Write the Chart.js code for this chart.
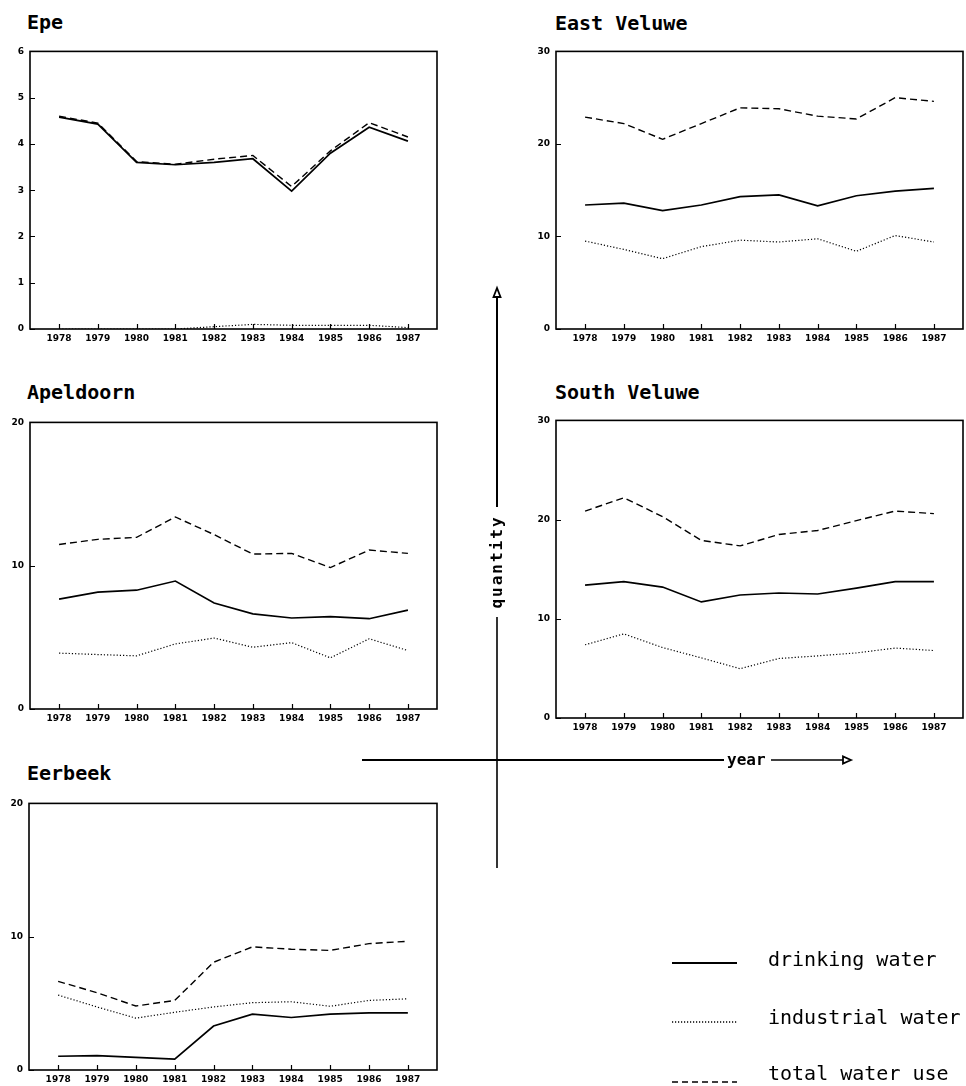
<!DOCTYPE html>
<html>
<head>
<meta charset="utf-8">
<script src="https://cdn.jsdelivr.net/npm/chart.js@4.4.1/dist/chart.umd.min.js"></script>
<style>
  html, body { margin: 0; padding: 0; background: #fff; width: 966px; height: 1086px; overflow: hidden; }
  body { position: relative; font-family: "DejaVu Sans Mono", monospace; color: #000; }
  canvas { position: absolute; }
  .title { position: absolute; font: bold 20px/20px "DejaVu Sans Mono", monospace; white-space: nowrap; }
  .leg { position: absolute; font: 20px/20px "DejaVu Sans Mono", monospace; white-space: nowrap; left: 768px; }
  .axlab { position: absolute; font: bold 16px/20px "DejaVu Sans Mono", monospace; white-space: nowrap; }
  svg { position: absolute; left: 0; top: 0; pointer-events: none; }
</style>
</head>
<body>
<div class="title" style="left:27px;top:12px">Epe</div>
<div class="title" style="left:555px;top:13px">East Veluwe</div>
<div class="title" style="left:27px;top:382px">Apeldoorn</div>
<div class="title" style="left:555px;top:382px">South Veluwe</div>
<div class="title" style="left:27px;top:763px">Eerbeek</div>

<canvas id="epe"></canvas>
<canvas id="east"></canvas>
<canvas id="apel"></canvas>
<canvas id="south"></canvas>
<canvas id="eer"></canvas>

<svg width="966" height="1086" viewBox="0 0 966 1086">
  <g stroke="#000" fill="none">
    <line x1="497" y1="296" x2="497" y2="507" stroke-width="2"/>
    <line x1="497" y1="617" x2="497" y2="868" stroke-width="1.6"/>
    <polygon points="497,288 493.5,297 500.5,297" fill="#fff" stroke-width="1.8"/>
    <line x1="362" y1="760" x2="724" y2="760" stroke-width="2"/>
    <line x1="771" y1="760" x2="843" y2="760" stroke-width="1.6"/>
    <polygon points="851,760 843,756.5 843,763.5" fill="#fff" stroke-width="1.8"/>
    <line x1="672" y1="963" x2="737" y2="963" stroke-width="1.8"/>
    <line x1="672" y1="1022" x2="737" y2="1022" stroke-width="1.3" stroke-dasharray="1.2,1.8"/>
    <line x1="672" y1="1082" x2="737" y2="1082" stroke-width="1.4" stroke-dasharray="6,4"/>
  </g>
</svg>
<div class="axlab" style="left:727px;top:750px">year</div>
<div class="axlab" style="left:442px;top:552px;width:110px;text-align:center;letter-spacing:2px;transform:rotate(-90deg);transform-origin:55px 10px">quantity</div>

<div class="leg" style="top:949px">drinking water</div>
<div class="leg" style="top:1007px">industrial water</div>
<div class="leg" style="top:1063px">total water use</div>

<script>
const years = [1978, 1979, 1980, 1981, 1982, 1983, 1984, 1985, 1986, 1987];

const epeDrinking   = [4.58, 4.43, 3.60, 3.55, 3.60, 3.68, 2.98, 3.80, 4.36, 4.06];
const epeIndustrial = [0.00, 0.00, 0.00, 0.00, 0.05, 0.10, 0.08, 0.08, 0.08, 0.03];
const epeTotal      = [4.60, 4.45, 3.62, 3.56, 3.67, 3.75, 3.08, 3.85, 4.46, 4.15];
const epeTicks      = [0, 1, 2, 3, 4, 5, 6];

const eastDrinking   = [13.4, 13.6, 12.8, 13.4, 14.3, 14.5, 13.3, 14.4, 14.9, 15.2];
const eastIndustrial = [9.5, 8.6, 7.6, 8.9, 9.6, 9.4, 9.75, 8.4, 10.1, 9.4];
const eastTotal      = [22.9, 22.2, 20.5, 22.2, 23.9, 23.8, 23.0, 22.7, 25.0, 24.6];
const eastTicks      = [0, 10, 20, 30];

const apelDrinking   = [7.67, 8.16, 8.29, 8.93, 7.40, 6.64, 6.35, 6.44, 6.30, 6.90];
const apelIndustrial = [3.90, 3.80, 3.71, 4.54, 4.95, 4.31, 4.63, 3.57, 4.90, 4.08];
const apelTotal      = [11.48, 11.84, 11.98, 13.40, 12.17, 10.81, 10.86, 9.87, 11.09, 10.86];
const apelTicks      = [0, 10, 20];

const southDrinking   = [13.4, 13.74, 13.2, 11.7, 12.4, 12.6, 12.5, 13.1, 13.74, 13.74];
const southIndustrial = [7.38, 8.48, 7.10, 6.06, 4.97, 6.00, 6.26, 6.56, 7.05, 6.80];
const southTotal      = [20.86, 22.2, 20.3, 17.9, 17.35, 18.5, 18.9, 19.9, 20.86, 20.6];
const southTicks      = [0, 10, 20, 30];

const eerDrinking   = [1.03, 1.08, 0.94, 0.81, 3.30, 4.19, 3.94, 4.19, 4.29, 4.29];
const eerIndustrial = [5.62, 4.73, 3.89, 4.33, 4.73, 5.05, 5.12, 4.78, 5.22, 5.34];
const eerTotal      = [6.65, 5.80, 4.80, 5.22, 8.08, 9.24, 9.06, 8.97, 9.48, 9.66];
const eerTicks      = [0, 10, 20];

const boxPlugin = {
  id: 'boxPlugin',
  afterDraw(chart) {
    const { ctx, chartArea: a, scales: { x, y } } = chart;
    ctx.save();
    ctx.strokeStyle = '#000';
    ctx.lineWidth = 1.6;
    ctx.setLineDash([]);
    ctx.strokeRect(a.left, a.top, a.right - a.left, a.bottom - a.top);
    ctx.lineWidth = 1.2;
    ctx.beginPath();
    y.ticks.forEach(t => {
      const py = Math.round(y.getPixelForValue(t.value)) + 0.5;
      ctx.moveTo(a.left, py); ctx.lineTo(a.left + 5, py);
    });
    x.ticks.forEach(t => {
      const px = Math.round(x.getPixelForValue(t.value)) + 0.5;
      ctx.moveTo(px, a.bottom); ctx.lineTo(px, a.bottom - 5);
    });
    ctx.stroke();
    ctx.restore();
  }
};

function series(vals) { return years.map((yr, k) => ({ x: yr, y: vals[k] })); }

function panel(id, box, yTicks, drinking, industrial, total, padRight) {
  const yW = 30, xH = 21, padT = 7;
  const el = document.getElementById(id);
  const w = box.r - box.l + yW + padRight;
  const h = box.b - box.t + padT + xH;
  el.width = w; el.height = h;
  el.style.width = w + 'px'; el.style.height = h + 'px';
  el.style.left = (box.l - yW) + 'px';
  el.style.top = (box.t - padT) + 'px';
  const tickFont = { family: '"DejaVu Sans", sans-serif', size: 9, weight: 'bold' };
  new Chart(el, {
    type: 'line',
    data: {
      datasets: [
        { label: 'drinking water', data: series(drinking), borderColor: '#000', borderWidth: 1.7, pointRadius: 0, fill: false },
        { label: 'industrial water', data: series(industrial), borderColor: '#000', borderWidth: 1.2, borderDash: [1.2, 2], pointRadius: 0, fill: false },
        { label: 'total water use', data: series(total), borderColor: '#000', borderWidth: 1.4, borderDash: [7, 4], pointRadius: 0, fill: false }
      ]
    },
    options: {
      responsive: false,
      animation: false,
      events: [],
      layout: { padding: { left: 0, top: padT, right: padRight, bottom: 0 } },
      plugins: { legend: { display: false }, tooltip: { enabled: false }, title: { display: false } },
      scales: {
        x: {
          type: 'linear',
          min: years[0] - 0.75,
          max: years[years.length - 1] + 0.75,
          grid: { display: false, drawTicks: false },
          border: { display: false },
          afterBuildTicks: s => { s.ticks = years.map(v => ({ value: v })); },
          afterFit: s => { s.height = xH; },
          ticks: { color: '#000', font: tickFont, padding: 4, maxRotation: 0, autoSkip: false, callback: v => String(v) }
        },
        y: {
          min: yTicks[0],
          max: yTicks[yTicks.length - 1],
          grid: { display: false, drawTicks: false },
          border: { display: false },
          afterBuildTicks: s => { s.ticks = yTicks.map(v => ({ value: v })); },
          afterFit: s => { s.width = yW; },
          ticks: { color: '#000', font: tickFont, padding: 6, callback: v => String(v) }
        }
      }
    },
    plugins: [boxPlugin]
  });
}

panel('epe',   { l: 30,  t: 47,  r: 437, b: 329 },  epeTicks,   epeDrinking,   epeIndustrial,   epeTotal,   8);
panel('east',  { l: 556, t: 47,  r: 963, b: 329 },  eastTicks,  eastDrinking,  eastIndustrial,  eastTotal,  2);
panel('apel',  { l: 30,  t: 418, r: 437, b: 709 },  apelTicks,  apelDrinking,  apelIndustrial,  apelTotal,  8);
panel('south', { l: 556, t: 416, r: 963, b: 718 },  southTicks, southDrinking, southIndustrial, southTotal, 2);
panel('eer',   { l: 29,  t: 799, r: 437, b: 1070 }, eerTicks,   eerDrinking,   eerIndustrial,   eerTotal,   8);
</script>
</body>
</html>
